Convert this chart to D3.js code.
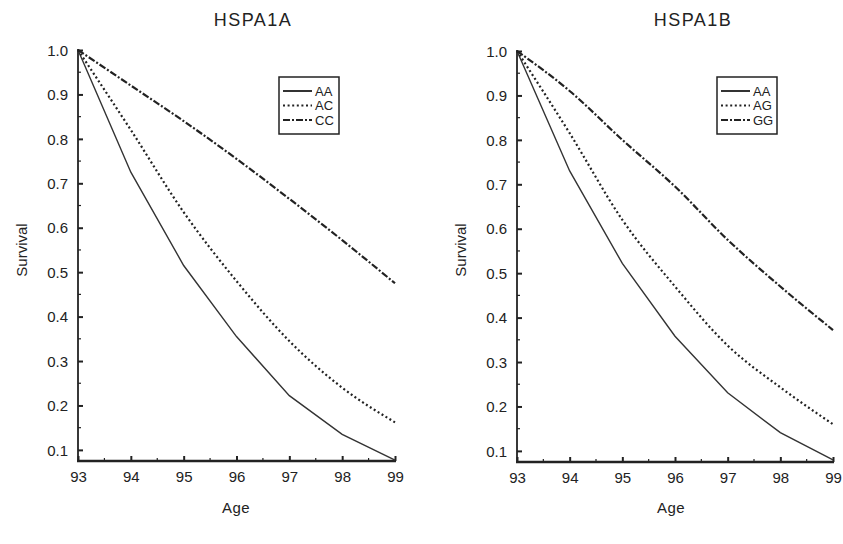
<!DOCTYPE html>
<html><head><meta charset="utf-8">
<script src="https://cdn.jsdelivr.net/npm/d3@7"></script>
<style>
html,body{margin:0;padding:0;background:#fff;}
text{font-family:"Liberation Sans",Arial,sans-serif;fill:#222;}
</style></head>
<body><svg id="c" width="843" height="544"></svg>
<script>
// ---- data ----
const ages = [93, 94, 95, 96, 97, 98, 99];
const yTicks = [0.1, 0.2, 0.3, 0.4, 0.5, 0.6, 0.7, 0.8, 0.9, 1.0];
const titles = ["HSPA1A", "HSPA1B"];
const legendA = ["AA", "AC", "CC"];
const legendB = ["AA", "AG", "GG"];
// HSPA1A
const a_AA = [1.0, 0.725, 0.515, 0.355, 0.222, 0.135, 0.077];
const a_AC = [1.0, 0.82, 0.635, 0.48, 0.345, 0.24, 0.162];
const a_CC = [1.0, 0.92, 0.84, 0.755, 0.665, 0.572, 0.475];
// HSPA1B
const b_AA = [1.0, 0.73, 0.522, 0.358, 0.231, 0.141, 0.08];
const b_AG = [1.0, 0.815, 0.62, 0.47, 0.337, 0.243, 0.16];
const b_GG = [1.0, 0.91, 0.80, 0.695, 0.575, 0.47, 0.372];

const styles = [
  {dash: null, width: 1.4, color: "#333", curve: d3.curveLinear},
  {dash: "2,2.6", width: 2.2, color: "#222", curve: d3.curveMonotoneX},
  {dash: "7,2,2,2", width: 2.2, color: "#222", curve: d3.curveMonotoneX}
];

const svg = d3.select("#c");

function panel(opts) {
  const {x0, x1, yTop, yBot, title, series, names, titleX, legendX, ylabX, ageX} = opts;
  const x = d3.scaleLinear().domain([93, 99]).range([x0, x1]);
  const y = d3.scaleLinear().domain([0.075, 1.0]).range([yBot, yTop]);
  const g = svg.append("g");

  // title
  g.append("text").attr("x", titleX).attr("y", 26).attr("text-anchor", "middle")
    .style("font-size", "18px").style("letter-spacing", "1.5px").text(title);

  // minor ticks
  const yMinor = d3.range(0.1, 1.0, 0.1).map(v => +(v + 0.05).toFixed(2));
  g.selectAll(".ym").data(yMinor).join("line")
    .attr("x1", x0).attr("x2", x0 + 3).attr("y1", d => y(d)).attr("y2", d => y(d))
    .attr("stroke", "#222").attr("stroke-width", 1.2);
  const xMinor = [93.5, 94.5, 95.5, 96.5, 97.5, 98.5];
  g.selectAll(".xm").data(xMinor).join("line")
    .attr("x1", d => x(d)).attr("x2", d => x(d)).attr("y1", yBot).attr("y2", yBot - 3)
    .attr("stroke", "#222").attr("stroke-width", 1.2);

  // y axis
  const ya = d3.axisRight(y).tickValues(yTicks).tickSize(5).tickSizeOuter(0).tickFormat(d3.format(".1f"));
  const yg = g.append("g").attr("transform", `translate(${x0},0)`).call(ya);
  yg.select(".domain").attr("stroke", "#222").attr("stroke-width", 1.8)
    .attr("d", `M0,${yTop - 1}V${yBot}`);
  yg.selectAll(".tick line").attr("stroke", "#222").attr("stroke-width", 2);
  yg.selectAll(".tick text").attr("x", -10).attr("text-anchor", "end")
    .style("font-size", "15px").attr("dy", "0.35em");

  // x axis
  const xa = d3.axisTop(x).tickValues(ages).tickSize(5).tickSizeOuter(0).tickFormat(d3.format("d"));
  const xg = g.append("g").attr("transform", `translate(0,${yBot})`).call(xa);
  xg.select(".domain").attr("stroke", "#222").attr("stroke-width", 2.6)
    .attr("d", `M${x0 - 1},0H${x1 + 1}`);
  xg.selectAll(".tick line").attr("stroke", "#222").attr("stroke-width", 2);
  xg.selectAll(".tick text").attr("y", 21).attr("dy", 0)
    .style("font-size", "15px");

  // axis labels
  g.append("text").attr("transform", `translate(${ylabX},250) rotate(-90)`)
    .attr("text-anchor", "middle").style("font-size", "15px").text("Survival");
  g.append("text").attr("x", ageX).attr("y", 513).attr("text-anchor", "middle")
    .style("font-size", "15px").style("letter-spacing", "0.5px").text("Age");

  // lines
  series.forEach((s, k) => {
    const line = d3.line().curve(styles[k].curve).x((d, i) => x(ages[i])).y(d => y(d));
    g.append("path").datum(s).attr("d", line).attr("fill", "none")
      .attr("stroke", styles[k].color).attr("stroke-width", styles[k].width)
      .attr("stroke-dasharray", styles[k].dash);
  });

  // legend
  const lg = g.append("g");
  lg.append("rect").attr("x", legendX).attr("y", 77).attr("width", 60).attr("height", 57)
    .attr("fill", "#fff").attr("stroke", "#222").attr("stroke-width", 1.5);
  names.forEach((n, k) => {
    const yy = 91 + k * 14.5;
    lg.append("line").attr("x1", legendX + 4).attr("x2", legendX + 33).attr("y1", yy).attr("y2", yy)
      .attr("stroke", styles[k].color).attr("stroke-width", k === 0 ? 2 : 2.2)
      .attr("stroke-dasharray", styles[k].dash);
    lg.append("text").attr("x", legendX + 36).attr("y", yy).attr("dy", "0.35em")
      .style("font-size", "13px").text(n);
  });
}

panel({x0: 78, x1: 395, yTop: 50, yBot: 461, title: titles[0],
  series: [a_AA, a_AC, a_CC], names: legendA, titleX: 253, legendX: 279, ylabX: 27, ageX: 236});
panel({x0: 517, x1: 833, yTop: 51, yBot: 462, title: titles[1],
  series: [b_AA, b_AG, b_GG], names: legendB, titleX: 693, legendX: 717, ylabX: 466, ageX: 671});
</script></body></html>
